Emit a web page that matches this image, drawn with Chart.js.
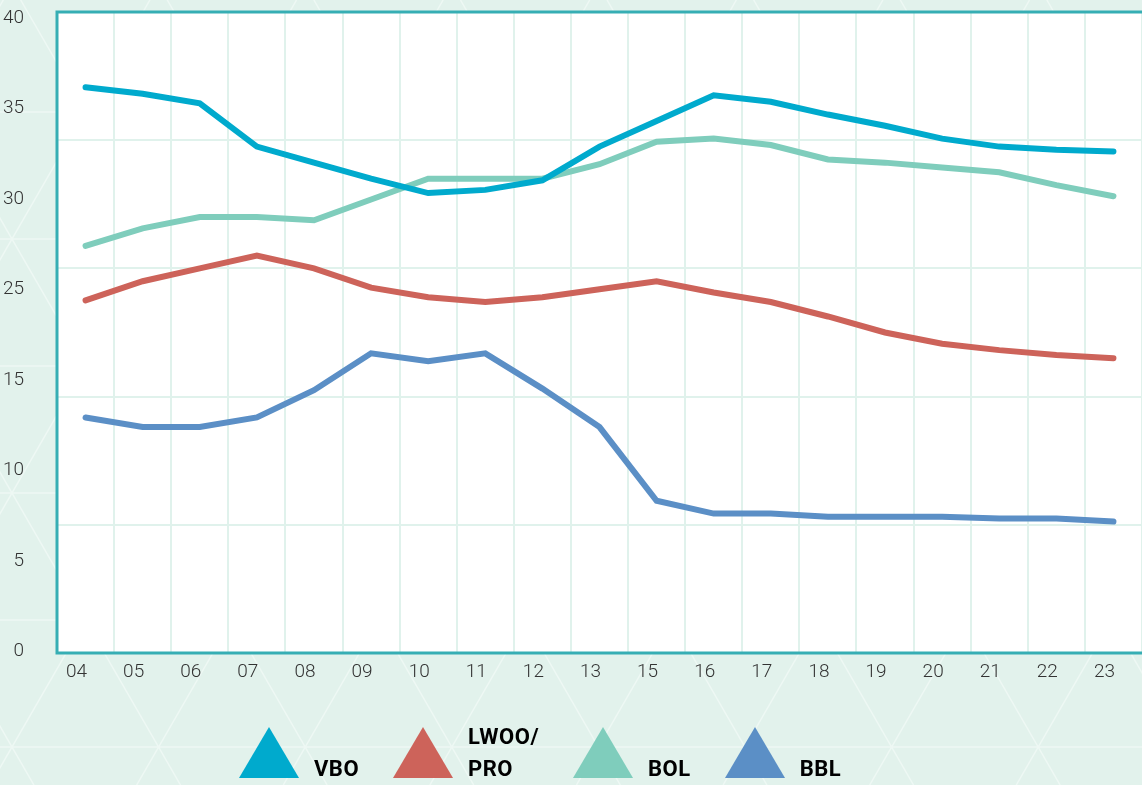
<!DOCTYPE html>
<html>
<head>
<meta charset="utf-8">
<script src="https://cdn.jsdelivr.net/npm/chart.js@4"></script>
<style>
  html, body { margin: 0; padding: 0; background: #e2f2ec; overflow: hidden; }
  #wrap { position: relative; width: 1142px; height: 785px; }
  #legend { position: absolute; left: 239px; top: 727px; height: 51px; display: flex; gap: 34px;
            font-family: Roboto, sans-serif; font-weight: 700; font-size: 22px; color: #000; }
  .item { display: flex; align-items: flex-end; }
  .tri { width: 0; height: 0; border-left: 30px solid transparent; border-right: 30px solid transparent;
         border-bottom-width: 51px; border-bottom-style: solid; margin-right: 15px; }
  .txt { line-height: 32px; margin-bottom: -7px; letter-spacing: 0.5px; }
</style>
</head>
<body>
<div id="wrap">
  <canvas id="chart" width="1142" height="785"></canvas>
  <div id="legend"></div>
</div>
<script>
const years = ['04','05','06','07','08','09','10','11','12','13','15','16','17','18','19','20','21','22','23'];
const yTickLabels = ['0','5','10','15','25','30','35','40'];

const vbo  = [35.3, 34.9, 34.3, 31.6, 30.6, 29.6, 28.7, 28.9, 29.5, 31.6, 33.2, 34.8, 34.4, 33.6, 32.9, 32.1, 31.6, 31.4, 31.3];
const lwoo = [22.0, 23.2, 24.0, 24.8, 24.0, 22.8, 22.2, 21.9, 22.2, 22.7, 23.2, 22.5, 21.9, 21.0, 20.0, 19.3, 18.9, 18.6, 18.4];
const bol  = [25.4, 26.5, 27.2, 27.2, 27.0, 28.3, 29.6, 29.6, 29.6, 30.5, 31.9, 32.1, 31.7, 30.8, 30.6, 30.3, 30.0, 29.2, 28.5];
const bbl  = [14.7, 14.1, 14.1, 14.7, 16.4, 18.7, 18.2, 18.7, 16.5, 14.1, 9.5, 8.7, 8.7, 8.5, 8.5, 8.5, 8.4, 8.4, 8.2];

const seriesNames = ['VBO', 'LWOO/PRO', 'BOL', 'BBL'];
const seriesColors = ['#00aacd', '#cd635a', '#7fcdbc', '#5b8fc6'];

Chart.defaults.font.family = 'Roboto';

// achtergrond met driehoekjes + wit plotvlak
const backdrop = {
  id: 'backdrop',
  beforeDraw(chart) {
    const ctx = chart.ctx;
    const w = chart.width, h = chart.height;
    const a = chart.chartArea;
    ctx.save();
    ctx.fillStyle = '#e2f2ec';
    ctx.fillRect(0, 0, w, h);
    ctx.strokeStyle = '#eef8f4';
    ctx.lineWidth = 1.5;
    const rowH = 127, side = 146.6, x0 = 12, y0 = 747;
    const k = rowH / (side / 2);
    ctx.beginPath();
    for (let y = y0 - rowH * 6; y <= h + rowH; y += rowH) {
      ctx.moveTo(0, y); ctx.lineTo(w, y);
    }
    for (let x = x0 - side * 10; x <= w + side * 10; x += side) {
      ctx.moveTo(x - (h - y0) / k, h); ctx.lineTo(x + y0 / k, 0);
      ctx.moveTo(x + (h - y0) / k, h); ctx.lineTo(x - y0 / k, 0);
    }
    ctx.stroke();
    ctx.fillStyle = '#ffffff';
    ctx.fillRect(a.left, a.top, a.right - a.left, a.bottom - a.top);
    ctx.restore();
  },
  afterDatasetsDraw(chart) {
    const ctx = chart.ctx;
    const a = chart.chartArea;
    ctx.save();
    ctx.strokeStyle = '#36aeb4';
    ctx.lineWidth = 3;
    ctx.beginPath();
    ctx.moveTo(a.right, a.top); ctx.lineTo(a.left, a.top);
    ctx.lineTo(a.left, a.bottom); ctx.lineTo(a.right, a.bottom);
    ctx.stroke();
    ctx.restore();
  }
};

const ctx = document.getElementById('chart');

new Chart(ctx, {
  type: 'line',
  data: {
    labels: years,
    datasets: [vbo, lwoo, bol, bbl].map((d, i) => ({
      label: seriesNames[i],
      data: d,
      borderColor: seriesColors[i],
      backgroundColor: seriesColors[i],
      borderWidth: 6,
      borderCapStyle: 'round',
      pointRadius: 0,
      tension: 0,
      yAxisID: 'y'
    }))
  },
  options: {
    responsive: false,
    animation: false,
    layout: { padding: { top: 12, right: 0, left: 0, bottom: 0 } },
    plugins: { legend: { display: false }, tooltip: { enabled: false } },
    scales: {
      x: {
        offset: true,
        grid: { offset: true, color: '#e0f2ec', lineWidth: 2, drawTicks: false },
        border: { display: false },
        ticks: { color: '#333', font: { size: 19, weight: 300 }, padding: 8, labelOffset: -9, maxRotation: 0, autoSkip: false },
        afterFit(s) { s.height = 132; s.paddingLeft = 0; s.paddingRight = 0; }
      },
      y: {
        position: 'left',
        min: 0, max: 40,
        ticks: { display: false, stepSize: 8 },
        grid: { color: '#e0f2ec', lineWidth: 2, drawTicks: false },
        border: { display: false },
        afterFit(s) { s.width = 0; s.paddingTop = 0; s.paddingBottom = 0; }
      },
      yl: {
        position: 'left',
        min: -0.02, max: 7.07,
        grid: { display: false },
        border: { display: false },
        afterBuildTicks(s) { s.ticks = yTickLabels.map((_, i) => ({ value: i })); },
        ticks: {
          color: '#333', font: { size: 19, weight: 300 }, padding: 25,
          callback: (v) => yTickLabels[v]
        },
        afterFit(s) { s.width = 57; s.paddingTop = 0; s.paddingBottom = 0; }
      }
    }
  },
  plugins: [backdrop]
});

// legenda
const legend = document.getElementById('legend');
seriesNames.forEach((name, i) => {
  const item = document.createElement('div');
  item.className = 'item';
  const tri = document.createElement('div');
  tri.className = 'tri';
  tri.style.borderBottomColor = seriesColors[i];
  const txt = document.createElement('div');
  txt.className = 'txt';
  txt.innerHTML = name.replace('/', '/<br>');
  item.appendChild(tri);
  item.appendChild(txt);
  legend.appendChild(item);
});
</script>
</body>
</html>
